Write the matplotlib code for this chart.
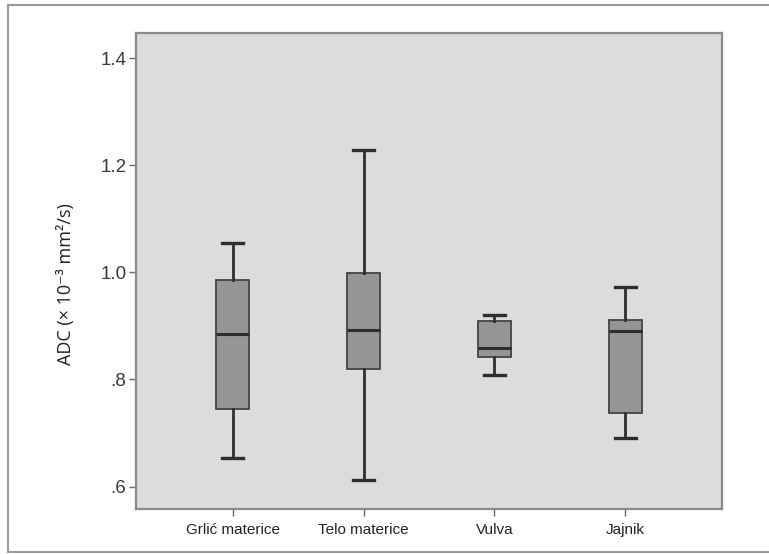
import matplotlib
matplotlib.use("Agg")
import matplotlib.pyplot as plt
from matplotlib.lines import Line2D

# ADC summary statistics per tumour site (x 10^-3 mm^2/s)
categories = ["Grlić materice", "Telo materice", "Vulva", "Jajnik"]
whisker_low = [0.653, 0.612, 0.809, 0.691]
q1 = [0.745, 0.819, 0.842, 0.737]
median = [0.885, 0.893, 0.859, 0.891]
q3 = [0.986, 0.999, 0.910, 0.911]
whisker_high = [1.055, 1.229, 0.921, 0.972]
y_ticks = [0.6, 0.8, 1.0, 1.2, 1.4]
y_tick_labels = [".6", ".8", "1.0", "1.2", "1.4"]

stats = [
    dict(label=c, whislo=lo, q1=a, med=m, q3=b, whishi=hi, fliers=[])
    for c, lo, a, m, b, hi in zip(categories, whisker_low, q1, median, q3, whisker_high)
]

fig = plt.figure(figsize=(7.69, 5.54), dpi=100)
fig.patch.set_facecolor("white")
ax = fig.add_axes([136 / 769, 1 - 509 / 554, (722 - 136) / 769, (509 - 33) / 554])
ax.set_facecolor("#dcdcde")

dark = "#2e2e2e"
ax.bxp(
    stats,
    positions=range(1, len(categories) + 1),
    widths=0.25,
    capwidths=0.16,
    patch_artist=True,
    showfliers=False,
    boxprops=dict(facecolor="#959597", edgecolor="#444444", linewidth=1.3),
    medianprops=dict(color=dark, linewidth=2.2),
    whiskerprops=dict(color=dark, linewidth=2.0),
    capprops=dict(color=dark, linewidth=2.4),
)

ax.set_xlim(0.26, 4.74)
ax.set_ylim(0.558, 1.447)
ax.set_yticks(y_ticks)
ax.set_yticklabels(y_tick_labels, fontsize=13.5, family="Liberation Sans", color="#3a3a3a")
ax.set_xticks(range(1, len(categories) + 1))
ax.set_xticklabels(categories, fontsize=11, family="Liberation Sans", color="#222222")
ax.tick_params(axis="both", length=5, width=1, color="#666666", pad=2)
ax.tick_params(axis="x", pad=5)

for side in ["left", "bottom", "right", "top"]:
    ax.spines[side].set_color("#8a8a8a")
    ax.spines[side].set_linewidth(1.6)

fig.text(66 / 769, 1 - 284 / 554, "ADC (× 10⁻³ mm²/s)", rotation=90,
         ha="center", va="center", fontsize=13,
         family=["Open Sans", "DejaVu Sans"], color="#222222")

# outer panel border (left, top and bottom edges)
frame_color = "#9a9a9a"
x0, x1 = 8 / 769, 1.0
y0, y1 = 1 - 552 / 554, 1 - 5 / 554
for xs, ys in [([x0, x1], [y1, y1]), ([x0, x0], [y0, y1]),
               ([x0, x1], [y0, y0])]:
    fig.add_artist(Line2D(xs, ys, transform=fig.transFigure,
                          color=frame_color, linewidth=1.5))

fig.savefig("out.png", dpi=100)
